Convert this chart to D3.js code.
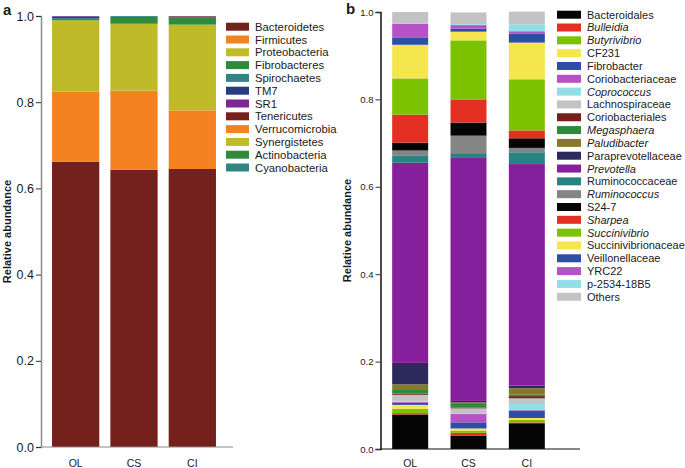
<!DOCTYPE html>
<html>
<head>
<meta charset="utf-8">
<script src="https://cdn.jsdelivr.net/npm/d3@7"></script>
<style>
  body { margin: 0; background: #fff; }
  text { font-family: "Liberation Sans", Arial, sans-serif; fill: #1a1a1a; }
</style>
</head>
<body>
<div id="chart"></div>
<script>
const svgWidth = 685
const svgHeight = 468

const samples = ["OL", "CS", "CI"]

// panel a: phyla, values per sample (OL, CS, CI)
const phyla = ["Bacteroidetes", "Firmicutes", "Proteobacteria", "Fibrobacteres", "Spirochaetes", "TM7",
    "SR1", "Tenericutes", "Verrucomicrobia", "Synergistetes", "Actinobacteria", "Cyanobacteria"]
const phylaValues = [
    [0.662, 0.643, 0.645],
    [0.163, 0.184, 0.136],
    [0.165, 0.155, 0.199],
    [0.003, 0.016, 0.016],
    [0.002, 0.002, 0.000],
    [0.004, 0.000, 0.000],
    [0.001, 0.000, 0.003],
    [0.000, 0.000, 0.001],
    [0.000, 0.000, 0.000],
    [0.000, 0.000, 0.000],
    [0.000, 0.000, 0.000],
    [0.000, 0.000, 0.000]
]
const phylaColors = ["#74201d", "#f58220", "#bfba2a", "#2f8a3b", "#2f8684", "#253b82",
    "#7d2696", "#74201d", "#f58220", "#bfba2a", "#2f8a3b", "#2f8684"]

// panel b: genera / families
const genera = ["Bacteroidales", "Bulleidia", "Butyrivibrio", "CF231", "Fibrobacter", "Coriobacteriaceae",
    "Coprococcus", "Lachnospiraceae", "Coriobacteriales", "Megasphaera", "Paludibacter", "Paraprevotellaceae",
    "Prevotella", "Ruminococcaceae", "Ruminococcus", "S24-7", "Sharpea", "Succinivibrio",
    "Succinivibrionaceae", "Veillonellaceae", "YRC22", "p-2534-18B5", "Others"]
const italicGenera = ["Bulleidia", "Butyrivibrio", "Coprococcus", "Megasphaera", "Paludibacter",
    "Prevotella", "Ruminococcus", "Sharpea", "Succinivibrio"]
const generaValues = [
    [0.079, 0.030, 0.059],
    [0.003, 0.007, 0.002],
    [0.010, 0.005, 0.006],
    [0.009, 0.005, 0.004],
    [0.005, 0.014, 0.017],
    [0.002, 0.019, 0.001],
    [0.002, 0.002, 0.014],
    [0.014, 0.011, 0.013],
    [0.003, 0.002, 0.005],
    [0.008, 0.010, 0.004],
    [0.013, 0.002, 0.014],
    [0.049, 0.003, 0.006],
    [0.458, 0.556, 0.507],
    [0.017, 0.011, 0.027],
    [0.011, 0.040, 0.010],
    [0.018, 0.030, 0.022],
    [0.064, 0.053, 0.018],
    [0.083, 0.135, 0.117],
    [0.077, 0.020, 0.084],
    [0.017, 0.007, 0.020],
    [0.031, 0.008, 0.006],
    [0.000, 0.002, 0.016],
    [0.027, 0.027, 0.029]
]
const generaColors = ["#050505", "#e33022", "#7cc200", "#f4e64c", "#2e4ea6", "#b553c6",
    "#92dde6", "#c3c3c5", "#74201d", "#2f8a3b", "#857a2b", "#2c2a5c",
    "#861f9c", "#2b8282", "#858585", "#050505", "#e33022", "#7cc200",
    "#f4e64c", "#2e4ea6", "#b553c6", "#92dde6", "#c3c3c5"]

const yTicks = [0, 0.2, 0.4, 0.6, 0.8, 1.0]

const svg = d3.select("#chart").append("svg")
    .attr("width", svgWidth)
    .attr("height", svgHeight)

const toRows = (names, values) => samples.map((s, j) => {
    const row = { sample: s }
    names.forEach((n, i) => { row[n] = values[i][j] })
    return row
})

const drawPanel = (opts) => {
    const { names, values, colors, xRange, yRange, padIn, axisX, axisEnd, axisColor,
        tickSize, labelY, ylabX } = opts

    const x = d3.scaleBand()
        .domain(samples)
        .range(xRange)
        .paddingInner(padIn)
        .paddingOuter(padIn / 2)

    const y = d3.scaleLinear()
        .domain([0, 1])
        .range(yRange)

    const series = d3.stack().keys(names)(toRows(names, values))

    const g = svg.append("g")

    g.selectAll("g.layer")
        .data(series)
        .enter()
        .append("g")
        .attr("class", "layer")
        .attr("fill", (d, i) => colors[i])
        .selectAll("rect")
        .data(d => d)
        .enter()
        .append("rect")
        .attr("x", d => x(d.data.sample))
        .attr("y", d => y(d[1]))
        .attr("width", x.bandwidth())
        .attr("height", d => Math.max(0, y(d[0]) - y(d[1])))

    // y axis
    const yAxisG = g.append("g")
        .attr("transform", `translate(${axisX}, 0)`)
        .call(d3.axisLeft(y).tickValues(yTicks).tickFormat(d3.format(".1f")).tickSize(5).tickPadding(2))
    yAxisG.select(".domain").attr("stroke", axisColor).attr("stroke-width", 1.5)
    yAxisG.selectAll(".tick line").attr("stroke", "#333")
    yAxisG.selectAll(".tick text")
        .style("font-size", tickSize + "px")
        .style("font-family", "'Liberation Sans', Arial, sans-serif")
        .attr("fill", "#1a1a1a")

    // x axis baseline
    g.append("line")
        .attr("x1", axisX)
        .attr("x2", axisEnd)
        .attr("y1", y(0))
        .attr("y2", y(0))
        .attr("stroke", axisColor)
        .attr("stroke-width", 1.2)

    g.selectAll("text.xlab")
        .data(samples)
        .enter()
        .append("text")
        .attr("class", "xlab")
        .attr("x", d => x(d) + x.bandwidth() / 2)
        .attr("y", labelY)
        .attr("text-anchor", "middle")
        .style("font-size", "10.5px")
        .text(d => d)

    g.append("text")
        .attr("transform", `translate(${ylabX}, ${(yRange[0] + yRange[1]) / 2}) rotate(-90)`)
        .attr("text-anchor", "middle")
        .attr("dy", "0.35em")
        .style("font-size", "11px")
        .style("font-weight", "bold")
        .text("Relative abundance")
}

const drawLegend = (names, colors, opts) => {
    const { swX, swW, swH, top, step, textX, fontSize, italics } = opts
    const lg = svg.append("g")
    const item = lg.selectAll("g")
        .data(names)
        .enter()
        .append("g")
        .attr("transform", (d, i) => `translate(0, ${top + i * step})`)
    item.append("rect")
        .attr("x", swX)
        .attr("y", -swH / 2)
        .attr("width", swW)
        .attr("height", swH)
        .attr("fill", (d, i) => colors[i])
    item.append("text")
        .attr("x", textX)
        .attr("dy", "0.36em")
        .style("font-size", fontSize + "px")
        .style("font-style", d => italics.includes(d) ? "italic" : "normal")
        .text(d => d)
}

drawPanel({
    names: phyla, values: phylaValues, colors: phylaColors,
    xRange: [46.5, 221.5], yRange: [447, 16], padIn: 0.19,
    axisX: 41, axisEnd: 233, axisColor: "#8a8a8a", tickSize: 12.5, labelY: 467, ylabX: 7
})

drawPanel({
    names: genera, values: generaValues, colors: generaColors,
    xRange: [381, 556], yRange: [449, 12], padIn: 0.383,
    axisX: 380.5, axisEnd: 580, axisColor: "#111", tickSize: 9.5, labelY: 467, ylabX: 347
})

drawLegend(phyla, phylaColors, {
    swX: 226, swW: 23, swH: 8, top: 26.7, step: 12.8, textX: 255, fontSize: 11.3, italics: []
})

drawLegend(genera, generaColors, {
    swX: 557, swW: 24, swH: 8, top: 14.7, step: 12.82, textX: 587, fontSize: 11, italics: italicGenera
})

svg.append("text")
    .attr("x", 3)
    .attr("y", 15)
    .style("font-size", "15px")
    .style("font-weight", "bold")
    .text("a")

svg.append("text")
    .attr("x", 346)
    .attr("y", 14)
    .style("font-size", "15px")
    .style("font-weight", "bold")
    .text("b")
</script>
</body>
</html>
